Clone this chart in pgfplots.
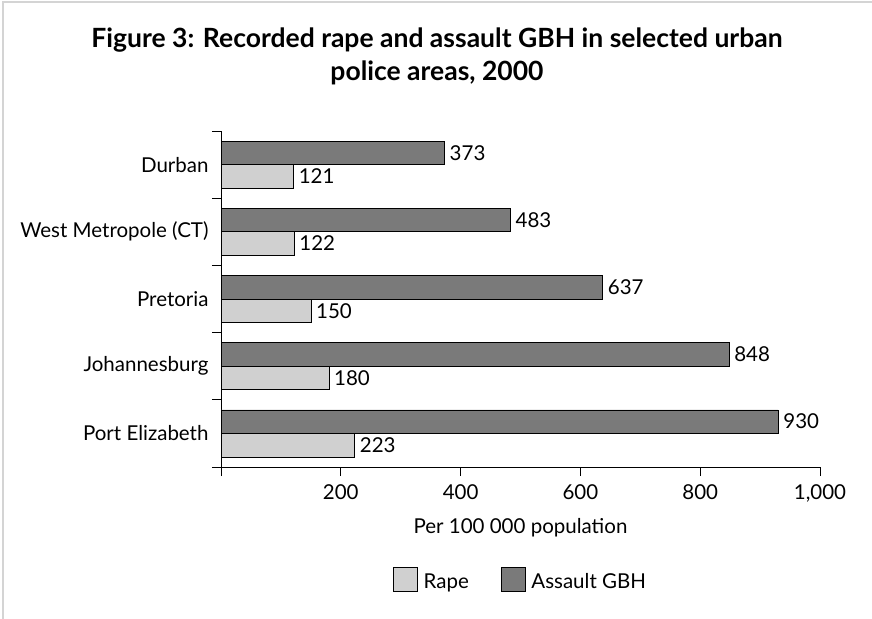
\documentclass[border=0pt]{standalone}
\usepackage{pgfplots}
\pgfplotsset{compat=1.18}
\usepackage{fontspec}
\setmainfont{Lato}
\definecolor{darkbar}{HTML}{7A7A7A}
\definecolor{lightbar}{HTML}{D0D0D0}
\definecolor{framecol}{HTML}{D4D4D4}
\begin{document}
\begin{tikzpicture}
\useasboundingbox (0,0) rectangle (872bp,619bp);
\draw[framecol, line width=1.2bp] (3bp,0) -- (3bp,617bp) -- (872bp,617bp);
\node[font=\bfseries\fontsize{26.5bp}{33bp}\selectfont, align=center] at (437bp,563bp)
  {Figure 3: Recorded rape and assault GBH in selected urban\\police areas, 2000};
\begin{axis}[
  at={(221bp,152bp)}, anchor=south west,
  scale only axis, width=599bp, height=336bp,
  xbar, bar width=23.5bp,
  xmin=0, xmax=1000, ymin=-0.5, ymax=4.5,
  axis x line*=bottom, axis y line*=left,
  axis line style={line width=0.9bp},
  tick align=outside,
  major tick length=9bp, minor tick length=9bp,
  xtick={0,200,400,600,800,1000},
  xticklabels={,200,400,600,800,{1,000}},
  ytick={0,1,2,3,4},
  yticklabels={Port Elizabeth,Johannesburg,Pretoria,West Metropole (CT),Durban},
  minor ytick={-0.5,0.5,1.5,2.5,3.5,4.5},
  major y tick style={draw=none},
  minor y tick style={black, line width=0.9bp},
  major x tick style={black, line width=0.9bp},
  tick label style={font=\fontsize{20.5bp}{22bp}\selectfont},
  xticklabel style={yshift=-5bp},
  /pgf/number format/assume math mode=true,
  xlabel={Per 100 000 population},
  xlabel style={font=\fontsize{20.5bp}{22bp}\selectfont, at={(axis description cs:0.5,-0.18)}, anchor=center},
  nodes near coords,
  nodes near coords style={font=\fontsize{20.5bp}{22bp}\selectfont, anchor=west, inner sep=5bp},
  every axis plot/.append style={draw=black, line width=0.6bp},
  legend style={at={(0.5,-0.335)}, anchor=center, draw=none, legend columns=2,
    font=\fontsize{20.5bp}{22bp}\selectfont,
    /tikz/every odd column/.append style={column sep=4bp},
    /tikz/every even column/.append style={column sep=30bp}},
  legend image code/.code={\draw[#1] (0bp,-9bp) rectangle (24bp,15bp);},
  clip=false,
]
\addplot[fill=lightbar, bar shift=-11.75bp] coordinates {(223,0) (180,1) (150,2) (122,3) (121,4)};
\addlegendentry{Rape}
\addplot[fill=darkbar, bar shift=11.75bp] coordinates {(930,0) (848,1) (637,2) (483,3) (373,4)};
\addlegendentry{Assault GBH}
\end{axis}
\end{tikzpicture}
\end{document}
